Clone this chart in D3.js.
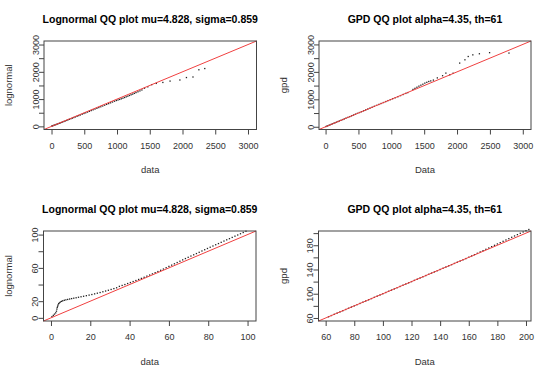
<!DOCTYPE html>
<html>
<head>
<meta charset="utf-8">
<script src="https://cdn.jsdelivr.net/npm/d3@7"></script>
<style>
body { margin: 0; background: #fff; }
svg text { font-family: "Liberation Sans", Arial, sans-serif; }
</style>
</head>
<body>
<script>
// ---- panel 1: lognormal QQ (full range)
const lnData1 = [3, 15, 28, 40, 55, 70, 85, 100, 118, 135, 152, 170, 190, 210, 230, 250, 272, 295, 318, 340,
  365, 390, 415, 440, 468, 495, 522, 550, 578, 606, 635, 664, 693, 722, 752, 782, 812, 842, 872, 902,
  932, 962, 990, 1015, 1040, 1065, 1090, 1115, 1140, 1165, 1190, 1215, 1240, 1265, 1290, 1320, 1350, 1380,
  1420, 1470, 1530, 1600, 1700, 1810, 1960, 2060, 2160, 2250, 2340];
const lnQuant1 = [10, 20, 31, 42, 55, 68, 82, 96, 112, 128, 144, 161, 180, 199, 218, 237, 258, 280, 302, 323,
  347, 371, 395, 419, 446, 472, 498, 525, 552, 579, 607, 635, 663, 690, 719, 748, 777, 806, 835, 864,
  893, 922, 948, 968, 988, 1010, 1033, 1058, 1083, 1108, 1133, 1158, 1183, 1210, 1238, 1268, 1300, 1335,
  1400, 1450, 1530, 1575, 1610, 1660, 1700, 1790, 1810, 2075, 2120];

// ---- panel 2: GPD QQ (full range)
const gpdData2 = [5, 20, 35, 50, 68, 86, 105, 125, 145, 165, 188, 210, 235, 260, 285, 310, 338, 366, 395, 425,
  455, 485, 515, 545, 578, 610, 642, 675, 708, 742, 776, 810, 845, 880, 915, 950, 985, 1020, 1060, 1100,
  1140, 1180, 1220, 1250, 1330, 1360, 1390, 1420, 1450, 1480, 1510, 1540, 1570, 1600, 1640, 1700, 1780,
  1830, 1890, 1940, 2040, 2120, 2170, 2240, 2340, 2495, 2790];
const gpdQuant2 = [8, 22, 37, 52, 70, 88, 107, 127, 147, 167, 190, 212, 237, 262, 287, 313, 341, 369, 398, 428,
  458, 488, 518, 548, 581, 613, 645, 678, 711, 745, 779, 813, 848, 883, 918, 953, 988, 1022, 1058, 1095,
  1135, 1175, 1215, 1245, 1360, 1400, 1440, 1480, 1515, 1550, 1590, 1620, 1650, 1670, 1700, 1780, 1860,
  1955, 1895, 1950, 2320, 2440, 2560, 2620, 2660, 2700, 2685];

// ---- panel 3: lognormal QQ (0-100)
const lnData3 = [0.5, 1.2, 1.8, 2.4, 2.8, 3.0, 3.2, 3.4, 3.6, 3.9, 4.3, 4.8, 5.4, 6.0, 6.8, 7.6, 8.5, 9.5, 10.5,
  11.6, 12.8, 14, 15.3, 16.6, 18, 19.4, 20.8, 22.2, 23.6, 25, 26.4, 27.8, 29.2, 30.6, 32, 33.4, 34.8, 36.2,
  37.6, 39, 40.4, 41.8, 43.2, 44.6, 46, 47.4, 48.8, 50.2, 51.6, 53, 54.4, 55.8, 57.2, 58.6, 60, 61.4, 62.8,
  64.2, 65.6, 67, 68.4, 69.8, 71.2, 72.6, 74, 75.4, 76.8, 78.2, 79.6, 81, 82.4, 83.8, 85.2, 86.6, 88, 89.4,
  90.8, 92.2, 93.6, 95, 96.4, 97.8, 99.2];
const lnQuant3 = [1.5, 3, 4.5, 6, 8, 10.5, 12.5, 14, 15.5, 17, 18, 19, 19.8, 20.5, 21.1, 21.6, 22.1, 22.6, 23.1,
  23.6, 24.1, 24.7, 25.3, 25.9, 26.6, 27.3, 28.0, 28.8, 29.6, 30.4, 31.3, 32.2, 33.1, 34.1, 35.1, 36.1, 37.8, 38.9,
  40, 41.2, 42.4, 43.6, 44.8, 46.1, 47.4, 48.7, 50.1, 51.4, 52.8, 54.2, 55.6, 57.1, 58.6, 60.2, 61.8, 63.3, 64.9,
  66.4, 68, 69.6, 71.2, 72.7, 74.2, 75.7, 77.2, 78.7, 80.3, 81.8, 83.3, 84.8, 86.3, 87.8, 89.2, 90.7, 92.2, 93.7,
  95.1, 96.6, 98.1, 99.5, 101, 102.5, 104];

// ---- panel 4: GPD QQ (60-200)
const gpdData4 = [62, 64, 66, 68, 70, 72, 74, 76, 78, 80, 82, 84, 86, 88, 90, 92, 94, 96, 98, 100,
  102, 104, 106, 108, 110, 112, 114, 116, 118, 120, 122, 124, 126, 128, 130, 132, 134, 136, 138, 140,
  142, 144, 146, 148, 150, 152, 154, 156, 158, 160, 162, 164, 166, 168, 170, 172, 174, 176, 178, 180,
  182, 184, 186, 188, 190, 192, 194, 196, 198, 200, 202];
const gpdQuant4 = [62, 64, 66, 68, 70, 72, 74, 76, 78, 80, 82, 84, 86, 88, 90, 92, 94, 96, 98, 100,
  102, 104, 106, 108, 110, 112, 114, 116, 118, 120, 122, 124, 126, 128, 130, 132, 134, 136, 138, 140,
  142, 144, 146, 148, 150, 152, 154, 156, 158, 160.2, 162.3, 164.5, 166.7, 168.9, 171.1, 173.3, 175.5, 177.7, 179.9, 182.1,
  184.3, 186.5, 188.7, 190.9, 193.1, 195.3, 197.5, 199.7, 201.9, 204, 206];

// ---- ticks
const bigTicks = [0, 500, 1000, 1500, 2000, 2500, 3000];
const bigLabels = [0, 1000, 2000, 3000];
const smallTicks = [0, 20, 40, 60, 80, 100];
const smallLabels = [0, 20, 60, 100];
const gpdTicks = [60, 80, 100, 120, 140, 160, 180, 200];
const gpdLabels = [60, 100, 140, 180];

const lnTitle = "Lognormal QQ plot mu=4.828, sigma=0.859";
const gpdTitle = "GPD QQ plot alpha=4.35, th=61";

const w = 535, h = 369;

var svg = d3.select("body").append("svg")
  .attr("width", w)
  .attr("height", h);
svg.append("rect").attr("width", w).attr("height", h).attr("fill", "#fff");

function drawPanel(p) {
  var x = d3.scaleLinear().domain(p.dom).range([p.l, p.r]);
  var y = d3.scaleLinear().domain(p.dom).range([p.b, p.t]);
  var g = svg.append("g");

  // points (pch=".")
  g.selectAll(".pt")
    .data(p.xs)
    .enter().append("rect")
    .attr("x", (d) => x(d) - 0.65)
    .attr("y", (d, i) => y(p.ys[i]) - 0.65)
    .attr("width", 1.3)
    .attr("height", 1.3)
    .attr("fill", "#222");

  // abline(0,1) across the plot region
  g.append("line")
    .attr("x1", x(p.dom[0])).attr("y1", y(p.dom[0]))
    .attr("x2", x(p.dom[1])).attr("y2", y(p.dom[1]))
    .attr("stroke", "#f04040")
    .attr("stroke-width", 1);

  // box
  g.append("rect")
    .attr("x", p.l).attr("y", p.t)
    .attr("width", p.r - p.l).attr("height", p.b - p.t)
    .attr("fill", "none").attr("stroke", "#444").attr("stroke-width", 1);

  var xAxis = g.append("g")
    .attr("transform", "translate(0," + p.b + ")")
    .call(d3.axisBottom(x).tickValues(p.xTicks).tickSize(5).tickPadding(8)
      .tickFormat((d) => String(d)));
  var yAxis = g.append("g")
    .attr("transform", "translate(" + p.l + ",0)")
    .call(d3.axisLeft(y).tickValues(p.yTicks).tickSize(5)
      .tickFormat((d) => p.yLabels.includes(d) ? String(d) : ""));

  [xAxis, yAxis].forEach(function (a) {
    a.select(".domain").remove();
    a.selectAll("line").attr("stroke", "#444");
    a.selectAll("text").attr("fill", "#333").style("font-size", "9px")
      .style("font-family", "'Liberation Sans', Arial, sans-serif");
  });
  yAxis.selectAll("text")
    .attr("x", 0).attr("dy", null)
    .attr("text-anchor", "middle")
    .attr("transform", "translate(-5.5,0) rotate(-90)");

  g.append("text")
    .attr("x", (p.l + p.r) / 2).attr("y", p.t - 18)
    .attr("text-anchor", "middle")
    .style("font-size", "10.5px").style("font-weight", "bold")
    .attr("fill", "#000")
    .text(p.title);
  g.append("text")
    .attr("x", (p.l + p.r) / 2).attr("y", p.b + 43.5)
    .attr("text-anchor", "middle")
    .style("font-size", "9.5px").attr("fill", "#333")
    .text(p.xTitle);
  g.append("text")
    .attr("transform", "translate(" + (p.l - 32) + "," + ((p.t + p.b) / 2) + ") rotate(-90)")
    .attr("text-anchor", "middle")
    .style("font-size", "9.5px").attr("fill", "#333")
    .text(p.yTitle);
}

drawPanel({ l: 44, t: 41, r: 256.5, b: 129.5, dom: [-115, 3130],
  xs: lnData1, ys: lnQuant1, xTicks: bigTicks, yTicks: bigTicks, yLabels: bigLabels,
  title: lnTitle, xTitle: "data", yTitle: "lognormal" });
drawPanel({ l: 319, t: 41, r: 531, b: 129.5, dom: [-100, 3125],
  xs: gpdData2, ys: gpdQuant2, xTicks: bigTicks, yTicks: bigTicks, yLabels: bigLabels,
  title: gpdTitle, xTitle: "Data", yTitle: "gpd" });
drawPanel({ l: 43.5, t: 231, r: 256, b: 321, dom: [-3.8, 104.3],
  xs: lnData3, ys: lnQuant3, xTicks: smallTicks, yTicks: smallTicks, yLabels: smallLabels,
  title: lnTitle, xTitle: "data", yTitle: "lognormal" });
drawPanel({ l: 318.5, t: 231, r: 531, b: 321, dom: [55, 203.5],
  xs: gpdData4, ys: gpdQuant4, xTicks: gpdTicks, yTicks: gpdTicks, yLabels: gpdLabels,
  title: gpdTitle, xTitle: "Data", yTitle: "gpd" });
</script>
</body>
</html>
